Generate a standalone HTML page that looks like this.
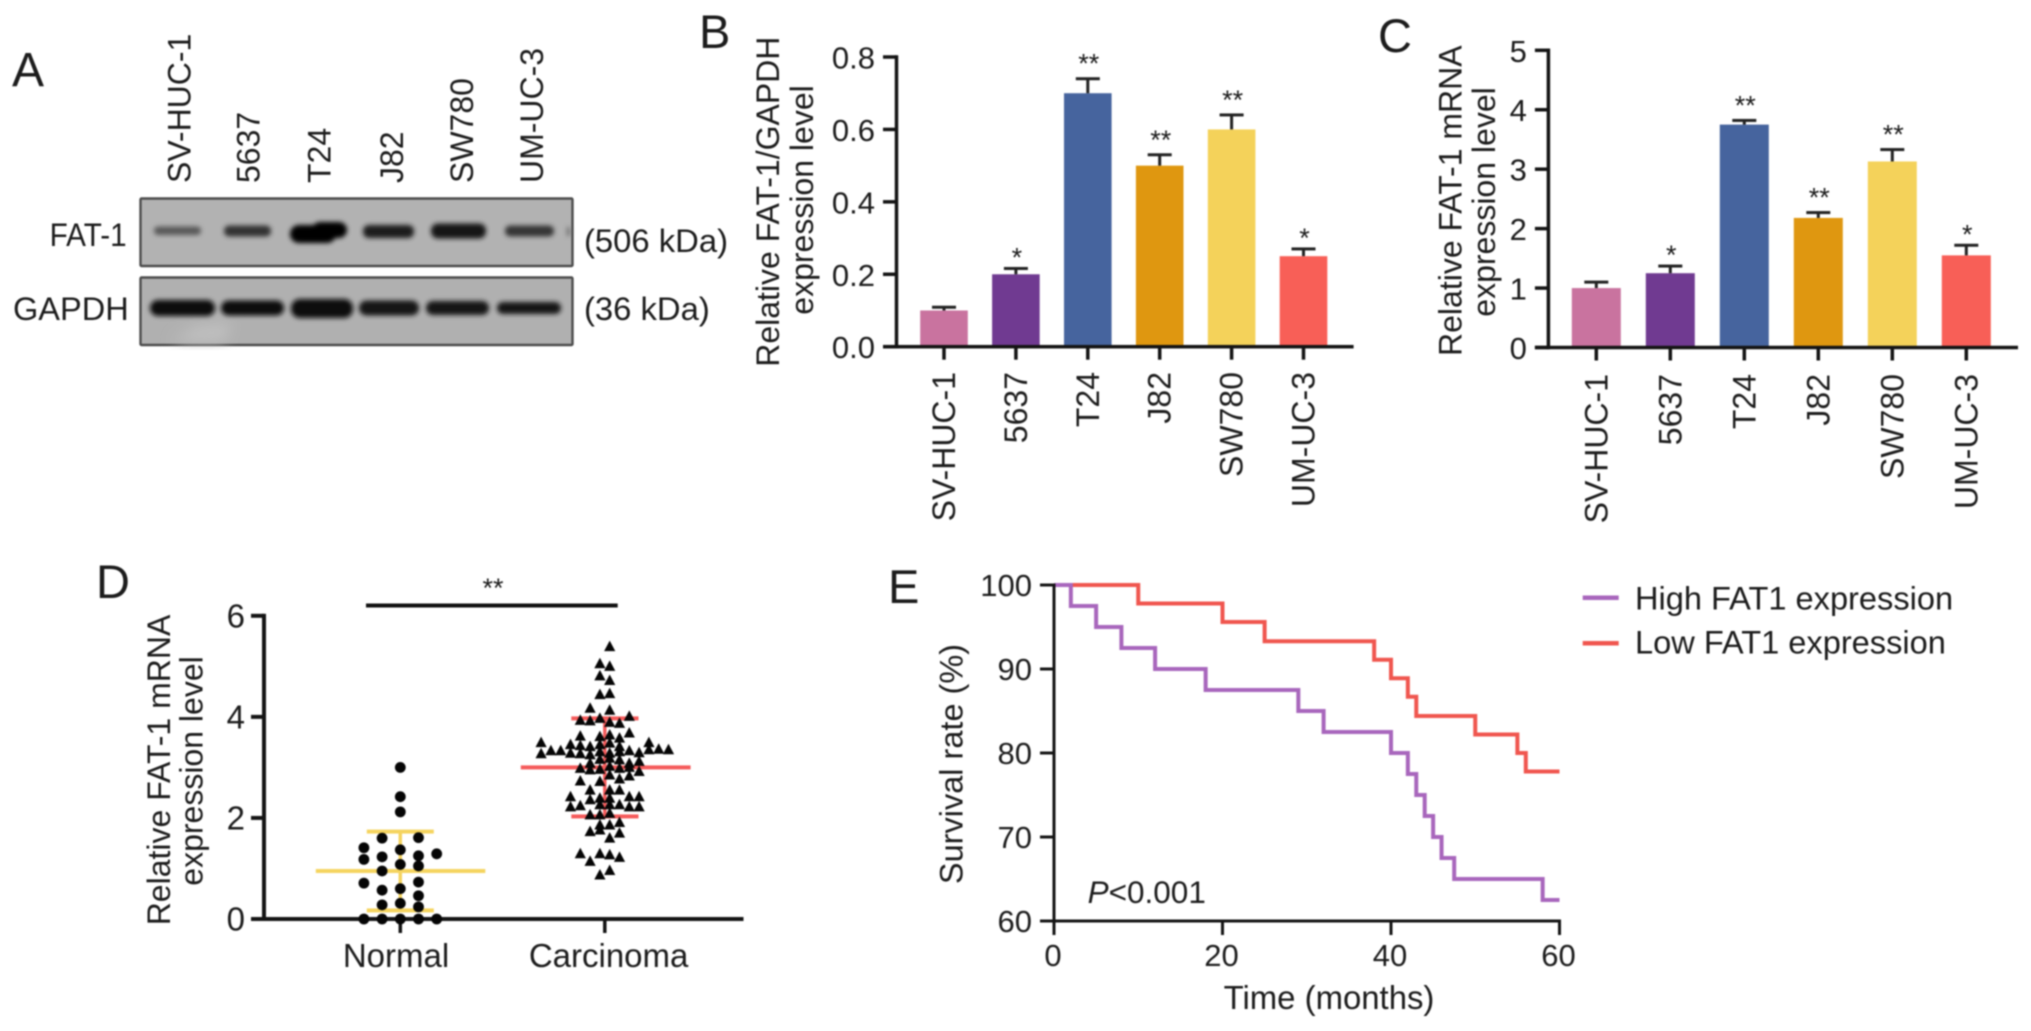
<!DOCTYPE html>
<html lang="en">
<head>
<meta charset="utf-8">
<title>FAT-1 expression figure</title>
<style>
  html, body { margin: 0; padding: 0; background: #fff; }
  #figure { display: block; filter: blur(0.85px); }
  text { font-family: "Liberation Sans", sans-serif; fill: #1c1c1c; }
</style>
</head>
<body>
<svg id="figure" xmlns="http://www.w3.org/2000/svg" width="2031" height="1031" viewBox="0 0 2031 1031">
  <defs>
    <filter id="band-blur" x="-20%" y="-80%" width="140%" height="260%"><feGaussianBlur stdDeviation="2.4"/></filter>
    <filter id="smear-blur" x="-40%" y="-40%" width="180%" height="180%"><feGaussianBlur stdDeviation="7"/></filter>
  </defs>
  <rect width="2031" height="1031" fill="#ffffff"/>

  <g id="panel-a">
    <text x="12" y="86" font-size="48">A</text>
    <g font-size="32" text-anchor="start">
      <text transform="translate(190.5 183) rotate(-90)">SV-HUC-1</text>
      <text transform="translate(259.4 183) rotate(-90)">5637</text>
      <text transform="translate(330.6 183) rotate(-90)">T24</text>
      <text transform="translate(403 183) rotate(-90)">J82</text>
      <text transform="translate(473 183) rotate(-90)">SW780</text>
      <text transform="translate(543 183) rotate(-90)">UM-UC-3</text>
    </g>
    <text x="49.6" y="246" font-size="32" textLength="77" lengthAdjust="spacingAndGlyphs">FAT-1</text>
    <text x="13" y="320" font-size="32" textLength="115.7" lengthAdjust="spacingAndGlyphs">GAPDH</text>
    <text x="584" y="252" font-size="32.8">(506 kDa)</text>
    <text x="584" y="320" font-size="32.8">(36 kDa)</text>

    <g>
      <rect x="140.5" y="198.5" width="432" height="67.5" fill="#b2b2b2" stroke="#4c4c4c" stroke-width="2.4" rx="1"/>
      <g filter="url(#band-blur)">
        <rect x="154" y="226.5" width="47" height="8.5" rx="4" fill="#585858"/>
        <rect x="224" y="225.5" width="47" height="11" rx="5" fill="#303030"/>
        <rect x="290" y="225" width="46" height="18" rx="9" fill="#050505"/>
        <rect x="312" y="222" width="35" height="16" rx="8" fill="#050505"/>
        <rect x="363" y="225" width="51" height="13" rx="6" fill="#1a1a1a"/>
        <rect x="431" y="223.5" width="55" height="15" rx="7" fill="#121212"/>
        <rect x="505" y="225.5" width="49" height="11" rx="5" fill="#363636"/>
        <rect x="567" y="227" width="3" height="9" fill="#666666"/>
      </g>
    </g>
    <g>
      <rect x="140.5" y="277.5" width="432" height="67.5" fill="#b0b0b0" stroke="#4c4c4c" stroke-width="2.4" rx="1"/>
      <polygon points="172,342 195,326 232,322 224,342" fill="#c0c0c0" filter="url(#smear-blur)"/>
      <g filter="url(#band-blur)">
        <rect x="150" y="300" width="65" height="16" rx="8" fill="#0c0c0c"/>
        <rect x="221" y="300.5" width="63" height="15" rx="7.5" fill="#101010"/>
        <rect x="291" y="299" width="62" height="19" rx="9" fill="#0c0c0c"/>
        <rect x="359" y="300.5" width="60" height="15" rx="7.5" fill="#141414"/>
        <rect x="426" y="301" width="63" height="14" rx="7" fill="#141414"/>
        <rect x="497" y="302" width="64" height="12" rx="6" fill="#161616"/>
      </g>
    </g>
  </g>

  <g id="panel-b">
    <text x="699" y="48" font-size="47">B</text>
    <text transform="translate(779 201.7) rotate(-90)" font-size="32" text-anchor="middle">Relative FAT-1/GAPDH</text>
    <text transform="translate(813 200) rotate(-90)" font-size="32" text-anchor="middle">expression level</text>
  </g>

  <g id="panel-c">
    <text x="1378" y="52" font-size="47">C</text>
    <text transform="translate(1461.5 200.7) rotate(-90)" font-size="32" text-anchor="middle">Relative FAT-1 mRNA</text>
    <text transform="translate(1494.8 202) rotate(-90)" font-size="32" text-anchor="middle">expression level</text>
  </g>

  <g id="panel-d">
    <text x="96" y="598" font-size="47">D</text>
    <text transform="translate(169.8 770) rotate(-90)" font-size="32" text-anchor="middle">Relative FAT-1 mRNA</text>
    <text transform="translate(202.7 771) rotate(-90)" font-size="32" text-anchor="middle">expression level</text>
    <rect x="366" y="603.5" width="251.7" height="4" fill="#111111"/>
    <text x="493" y="597" font-size="27" text-anchor="middle">**</text>
  </g>

  <g id="panel-e">
    <text x="888" y="603" font-size="47">E</text>
    <text transform="translate(962.6 764) rotate(-90)" font-size="32.5" text-anchor="middle">Survival rate (%)</text>
    <text x="1329" y="1009" font-size="32.9" text-anchor="middle">Time (months)</text>
    <text x="1087.6" y="903" font-size="31.5"><tspan font-style="italic">P</tspan>&lt;0.001</text>
    <rect x="1582.7" y="595.5" width="36" height="4.5" fill="#a866bc"/>
    <text x="1635" y="609.3" font-size="32.6">High FAT1 expression</text>
    <rect x="1582.7" y="641" width="36" height="4.5" fill="#f0564f"/>
    <text x="1635" y="653.3" font-size="32.6">Low FAT1 expression</text>
  </g>
</svg>

<script>
// ---- Panels B and C: bar charts ----
const cellLines = ['SV-HUC-1', '5637', 'T24', 'J82', 'SW780', 'UM-UC-3'];
const barColors = ['#c9739f', '#703a91', '#46649e', '#df9710', '#f4d25a', '#f85f57'];
const proteinValues = [0.1, 0.2, 0.7, 0.5, 0.6, 0.25];
const proteinErrorTops = [0.109, 0.216, 0.74, 0.53, 0.64, 0.27];
const proteinStars = ['', '*', '**', '**', '**', '*'];
const proteinTicks = [0, 0.2, 0.4, 0.6, 0.8];
const proteinTickLabels = ['0.0', '0.2', '0.4', '0.6', '0.8'];
const mrnaValues = [1, 1.25, 3.75, 2.18, 3.13, 1.55];
const mrnaErrorTops = [1.1, 1.37, 3.82, 2.27, 3.33, 1.72];
const mrnaStars = ['', '*', '**', '**', '**', '*'];
const mrnaTicks = [0, 1, 2, 3, 4, 5];
const mrnaTickLabels = ['0', '1', '2', '3', '4', '5'];

// ---- Panel D: scatter ----
const groupNames = ['Normal', 'Carcinoma'];
const scatterTicks = [0, 2, 4, 6];
const scatterTickLabels = ['0', '2', '4', '6'];
const normalSlots = [-2,-2,-2,-2, -1,-1,-1,-1,-1,-1, 0,0,0,0,0,0,0,0, 1,1,1,1,1,1,1, 2,2];
const normalValues = [1.41,1.18,0.71,0, 1.6,1.23,0.95,0.57,0.28,0, 3,2.42,2.12,1.37,1.08,0.6,0.31,0, 1.61,1.25,1.05,0.73,0.46,0.24,0, 1.29,0];
const normalMean = 0.95;
const normalUpper = 1.73;
const normalLower = 0.17;
const carcinomaSlots = [
  0.5, -0.5,0.5, -0.5,0.5, -0.5,0.5, -1.5,0.5,
  -2.5,-1.5,-0.5,0.5,1.5,2.5,
  2.5,1.5,0.5,-0.5,-2.5,
  -6.5,-3.5,-2.5,-1.5,-0.5,0.5,1.5,4.5,
  -6.5,-5.5,-4.5,-3.5,-2.5,-1.5,-0.5,0.5,1.5,2.5,3.5,4.5,5.5,6.5,
  -1.5,-0.5,0.5,1.5,2.5,3.5,
  -2.5,-1.5,-0.5,0.5,1.5,2.5,3.5,
  -2.5,-0.5,1.5,2.5,0.5,
  -1.5,0.5,1.5,
  -3.5,-1.5,-0.5,0.5,2.5,3.5,
  -3.5,-2.5,-0.5,0.5,1.5,2.5,3.5,
  -1.5,-0.5,0.5,
  0.5,1.5,-0.5,
  -1.5,-0.5,1.5,
  0.5,
  -2.5,-0.5,0.5,1.5,
  -1.5,
  0.5,-0.5
];
const carcinomaValues = [
  5.39, 5.05,5.0, 4.81,4.72, 4.44,4.46, 4.17,4.13,
  3.93,3.92,3.97,3.89,3.87,4.01,
  3.68,3.58,3.64,3.61,3.62,
  3.49,3.45,3.43,3.41,3.45,3.48,3.41,3.49,
  3.27,3.33,3.33,3.28,3.27,3.25,3.31,3.28,3.31,3.33,3.29,3.35,3.36,3.35,
  3.08,3.16,3.18,3.15,3.08,3.12,
  2.98,2.95,2.96,3.02,2.98,3.0,2.92,
  2.73,2.72,2.77,2.83,2.85,
  2.55,2.55,2.55,
  2.42,2.36,2.39,2.39,2.42,2.42,
  2.22,2.24,2.26,2.26,2.26,2.22,2.22,
  2.06,2.06,2.09,
  1.86,1.91,1.86,
  1.73,1.76,1.7,
  1.6,
  1.29,1.29,1.27,1.22,
  1.14,
  0.96,0.87
];
const carcinomaMean = 3.0;
const carcinomaUpper = 3.97;
const carcinomaLower = 2.03;

// ---- Panel E: survival ----
const survivalXTicks = [0, 20, 40, 60];
const survivalYTicks = [60, 70, 80, 90, 100];
const highTimes = [2, 5, 8, 12, 18, 29, 32, 40, 42, 43, 44, 45, 46, 47.5, 58];
const highSurvival = [97.5, 95, 92.5, 90, 87.5, 85, 82.5, 80, 77.5, 75, 72.5, 70, 67.5, 65, 62.5];
const lowTimes = [10, 20, 25, 38, 40, 42, 43, 50, 55, 56];
const lowSurvival = [97.8, 95.6, 93.3, 91.1, 88.9, 86.7, 84.4, 82.2, 80, 77.8];

const NS = 'http://www.w3.org/2000/svg';
const INK = '#141414';

function addRect(parent, name, x, y, w, h, fill) {
  const el = document.createElementNS(NS, 'rect');
  
  
  el.setAttribute('x', x);
  el.setAttribute('y', y);
  el.setAttribute('width', w);
  el.setAttribute('height', h);
  el.setAttribute('fill', fill);
  parent.appendChild(el);
  return el;
}
function addHLine(parent, name, x1, x2, y, t, fill) {
  return addRect(parent, name, x1, y - t / 2, x2 - x1, t, fill);
}
function addVLine(parent, name, x, y1, y2, t, fill) {
  return addRect(parent, name, x - t / 2, y1, t, y2 - y1, fill);
}
function addText(parent, name, x, y, str, size, anchor, rotated) {
  const el = document.createElementNS(NS, 'text');
  
  
  el.setAttribute('font-size', size);
  el.setAttribute('text-anchor', anchor);
  if (rotated) {
    el.setAttribute('transform', 'translate(' + x + ' ' + y + ') rotate(-90)');
  } else {
    el.setAttribute('x', x);
    el.setAttribute('y', y);
  }
  el.textContent = str;
  parent.appendChild(el);
  return el;
}

function drawBars(panelId, prefix, cfg) {
  const g = document.getElementById(panelId);
  const yScale = v => cfg.y0 - v * (cfg.y0 - cfg.yTop) / cfg.maxValue;
  const xScale = i => cfg.x0 + i * cfg.step;
  cellLines.forEach((label, i) => {
    const cx = xScale(i);
    addRect(g, prefix + '-bar-' + label.toLowerCase(), cx - cfg.barWidth / 2, yScale(cfg.values[i]), cfg.barWidth, cfg.y0 - yScale(cfg.values[i]), barColors[i]);
    addVLine(g, prefix + '-error-stem-' + label.toLowerCase(), cx, yScale(cfg.errors[i]), yScale(cfg.values[i]), 3, '#222222');
    addHLine(g, prefix + '-error-cap-' + label.toLowerCase(), cx - 12, cx + 12, yScale(cfg.errors[i]), 3, '#222222');
    if (cfg.stars[i]) {
      const lift = cfg.stars[i].length > 1 ? 6 : 2;
      addText(g, prefix + '-stars-' + label.toLowerCase(), cx + 1, yScale(cfg.errors[i]) - lift, cfg.stars[i], 27, 'middle', false);
    }
    addVLine(g, prefix + '-x-tick-' + label.toLowerCase(), cx, cfg.y0, cfg.y0 + 13, 3.5, INK);
    addText(g, prefix + '-x-label-' + label.toLowerCase(), cx + 11, cfg.labelEnd, label, 32, 'end', true);
  });
  cfg.ticks.forEach((t, i) => {
    addHLine(g, prefix + '-y-tick-' + cfg.tickLabels[i], cfg.axisX - 13.5, cfg.axisX, yScale(t), 3.5, INK);
    addText(g, prefix + '-y-tick-label-' + cfg.tickLabels[i], cfg.axisX - 21.5, yScale(t) + 11.5, cfg.tickLabels[i], 31, 'end', false);
  });
  addVLine(g, prefix + '-y-axis', cfg.axisX, cfg.yTop - 1.75, cfg.y0 + 1.75, 3.5, INK);
  addHLine(g, prefix + '-x-axis', cfg.axisX - 13.5, cfg.xEnd, cfg.y0, 3.5, INK);
}

drawBars('panel-b', 'protein', {
  x0: 944, step: 71.9, barWidth: 47.6, axisX: 896.5, xEnd: 1353.6,
  y0: 346.7, yTop: 57, maxValue: 0.8, labelEnd: 372,
  values: proteinValues, errors: proteinErrorTops, stars: proteinStars,
  ticks: proteinTicks, tickLabels: proteinTickLabels
});
drawBars('panel-c', 'mrna', {
  x0: 1596.3, step: 74, barWidth: 49, axisX: 1548.4, xEnd: 2018,
  y0: 347.5, yTop: 50.3, maxValue: 5, labelEnd: 374,
  values: mrnaValues, errors: mrnaErrorTops, stars: mrnaStars,
  ticks: mrnaTicks, tickLabels: mrnaTickLabels
});

// Panel D
(function () {
  const g = document.getElementById('panel-d');
  const y0 = 919, yTop = 615.8, axisX = 264;
  const yScale = v => y0 - v * (y0 - yTop) / 6;
  const groupX = [400.3, 604.8];
  const normalStep = 18.2;
  const carcinomaStep = 9.8;
  const yellow = '#f5d45f';
  const red = '#f55b5b';

  addVLine(g, 'scatter-y-axis', axisX, yTop - 2, y0 + 2, 4, INK);
  addHLine(g, 'scatter-x-axis', 251, 743.5, y0, 4, INK);
  scatterTicks.forEach((t, i) => {
    addHLine(g, 'scatter-y-tick-' + scatterTickLabels[i], 251, axisX, yScale(t), 4, INK);
    addText(g, 'scatter-y-tick-label-' + scatterTickLabels[i], 245, yScale(t) + 11.5, scatterTickLabels[i], 33, 'end', false);
  });
  groupNames.forEach((name, i) => {
    addVLine(g, 'scatter-x-tick-' + name.toLowerCase(), groupX[i], y0, y0 + 14, 3.5, INK);
  });
  addText(g, 'scatter-x-label-normal', 396, 967, groupNames[0], 33, 'middle', false);
  addText(g, 'scatter-x-label-carcinoma', 608.6, 967, groupNames[1], 33, 'middle', false);

  addHLine(g, 'normal-mean-line', groupX[0] - 84.5, groupX[0] + 85, yScale(normalMean), 4, yellow);
  addHLine(g, 'normal-upper-cap', groupX[0] - 33.5, groupX[0] + 33.5, yScale(normalUpper), 4, yellow);
  addHLine(g, 'normal-lower-cap', groupX[0] - 33.5, groupX[0] + 33.5, yScale(normalLower), 4, yellow);
  addVLine(g, 'normal-sd-stem', groupX[0], yScale(normalUpper), yScale(normalLower), 3.5, yellow);

  addHLine(g, 'carcinoma-mean-line', groupX[1] - 84, groupX[1] + 85.8, yScale(carcinomaMean), 4, red);
  addHLine(g, 'carcinoma-upper-cap', groupX[1] - 33.5, groupX[1] + 33.7, yScale(carcinomaUpper), 4, red);
  addHLine(g, 'carcinoma-lower-cap', groupX[1] - 33.5, groupX[1] + 33.7, yScale(carcinomaLower), 4, red);
  addVLine(g, 'carcinoma-sd-stem', groupX[1], yScale(carcinomaUpper), yScale(carcinomaLower), 3.5, red);

  normalValues.forEach((v, i) => {
    const c = document.createElementNS(NS, 'circle');
    
    
    c.setAttribute('cx', groupX[0] + normalSlots[i] * normalStep);
    c.setAttribute('cy', yScale(v));
    c.setAttribute('r', 5.4);
    c.setAttribute('fill', '#050505');
    g.appendChild(c);
  });
  carcinomaValues.forEach((v, i) => {
    const cx = groupX[1] + carcinomaSlots[i] * carcinomaStep;
    const cy = yScale(v);
    const p = document.createElementNS(NS, 'polygon');
    
    
    p.setAttribute('points', cx + ',' + (cy - 6) + ' ' + (cx + 5.6) + ',' + (cy + 4.5) + ' ' + (cx - 5.6) + ',' + (cy + 4.5));
    p.setAttribute('fill', '#050505');
    g.appendChild(p);
  });
})();

// Panel E
(function () {
  const g = document.getElementById('panel-e');
  const x0 = 1054, x60 = 1559.5, y100 = 585, y60 = 921;
  const xScale = t => x0 + t * (x60 - x0) / 60;
  const yScale = v => y60 - (v - 60) * (y60 - y100) / 40;

  function stepPath(times, values) {
    let d = 'M' + xScale(0) + ' ' + yScale(100);
    times.forEach((t, i) => {
      d += ' H' + xScale(t) + ' V' + yScale(values[i]);
    });
    return d + ' H' + xScale(60);
  }
  function addCurve(name, times, values, color) {
    const p = document.createElementNS(NS, 'path');
    
    
    p.setAttribute('d', stepPath(times, values));
    p.setAttribute('fill', 'none');
    p.setAttribute('stroke', color);
    p.setAttribute('stroke-width', 4);
    p.setAttribute('stroke-linejoin', 'miter');
    g.appendChild(p);
  }

  addCurve('low-fat1-survival-curve', lowTimes, lowSurvival, '#f0564f');
  addCurve('high-fat1-survival-curve', highTimes, highSurvival, '#a866bc');

  addVLine(g, 'survival-y-axis', x0, y100 - 1.5, y60 + 1.5, 3, INK);
  addHLine(g, 'survival-x-axis', 1040, x60 + 1.5, y60, 3, INK);
  survivalYTicks.forEach(t => {
    addHLine(g, 'survival-y-tick-' + t, 1040, x0, yScale(t), 3, INK);
    addText(g, 'survival-y-tick-label-' + t, 1032, yScale(t) + 11, String(t), 31, 'end', false);
  });
  survivalXTicks.forEach(t => {
    addVLine(g, 'survival-x-tick-' + t, xScale(t), y60, y60 + 14, 3, INK);
    addText(g, 'survival-x-tick-label-' + t, xScale(t) - 1, 966, String(t), 31, 'middle', false);
  });
})();
</script>
</body>
</html>
